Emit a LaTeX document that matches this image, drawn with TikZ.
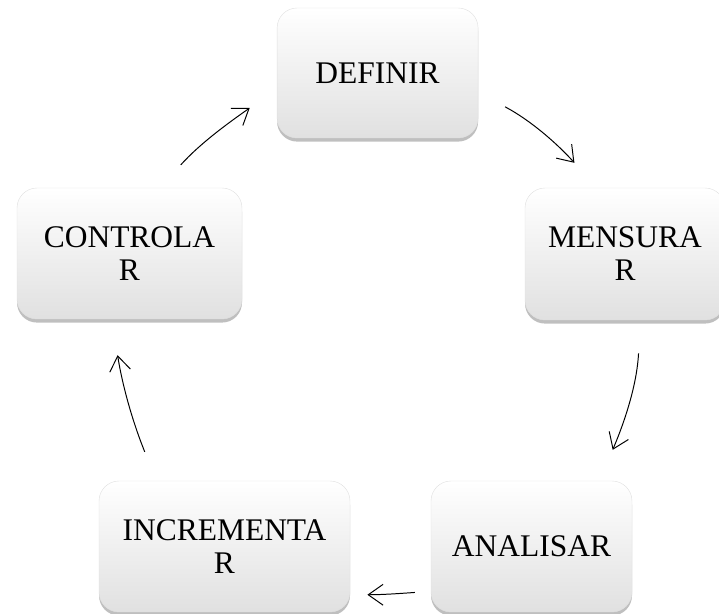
\documentclass[tikz,border=0pt]{standalone}
\usepackage{fontspec}
\setmainfont{Liberation Serif}
\usetikzlibrary{arrows.meta, shadows}
\tikzset{
  etapa/.style={rectangle, rounded corners=0.5cm, draw=black!12, line width=0.3pt,
    top color=white, middle color=white, bottom color=black!12,
    drop shadow={shadow xshift=0pt, shadow yshift=-0.09cm, opacity=0.5},
    inner sep=0pt, minimum height=3.275cm, align=center,
    font=\fontsize{22.4}{23.5}\selectfont},
  seta/.style={-{Straight Barb[length=3.7mm,width=5.2mm]}, line width=0.7pt}
}
\begin{document}
\begin{tikzpicture}
    \useasboundingbox (0,0) rectangle (17.975,15.35);

    \node[etapa, minimum width=5.025cm, minimum height=3.25cm] (definir) at (9.44,13.525) {DEFINIR};
    \node[etapa, minimum width=5cm, minimum height=3.3cm] (mensurar) at (15.625,9) {MENSURA\\R};
    \node[etapa, minimum width=5.025cm] (analisar) at (13.2875,1.6875) {ANALISAR};
    \node[etapa, minimum width=6.275cm] (incrementar) at (5.6125,1.6875) {INCREMENTA\\R};
    \node[etapa, minimum width=5.625cm] (controlar) at (3.2375,9.0125) {CONTROLA\\R};

    \draw[seta, shorten <=0.76cm, shorten >=0.84cm] (definir.-11) to[out=-28, in=132] (mensurar.113);
    \draw[seta, shorten <=0.83cm, shorten >=0.84cm] (mensurar.-77) to[out=-93, in=67] (analisar.44);
    \draw[seta, shorten <=0.4cm, shorten >=0.43cm] (analisar.204) to[out=184, in=0] (incrementar.-21);
    \draw[seta, shorten <=0.78cm, shorten >=0.91cm] (incrementar.136) to[out=112, in=-81] (controlar.-105);
    \draw[seta, shorten <=0.77cm, shorten >=0.83cm] (controlar.65) to[out=48, in=215] (definir.189);
\end{tikzpicture}
\end{document}
